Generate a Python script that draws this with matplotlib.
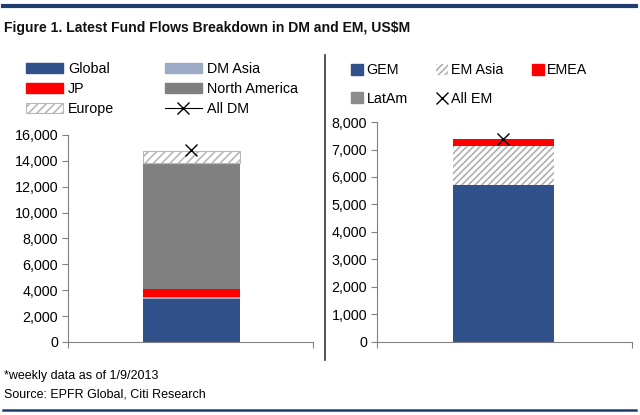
import numpy as np
import matplotlib.pyplot as plt
from matplotlib.lines import Line2D
from matplotlib.patches import Patch

plt.rcParams['font.family'] = ['Liberation Sans', 'DejaVu Sans']
plt.rcParams['hatch.linewidth'] = 1.2

# data (US$M)
dm_labels = ['Global', 'DM Asia', 'JP', 'North America', 'Europe']
dm_values = [3320, 150, 650, 9700, 950]
all_dm = 14800

em_labels = ['GEM', 'LatAm', 'EM Asia', 'EMEA']
em_values = [5710, 0, 1420, 250]
all_em = 7400

dm_ticks = [0, 2000, 4000, 6000, 8000, 10000, 12000, 14000, 16000]
em_ticks = [0, 1000, 2000, 3000, 4000, 5000, 6000, 7000, 8000]

navy = '#30518a'
styles = {
    'Global': dict(color=navy),
    'GEM': dict(color=navy),
    'DM Asia': dict(color='#9cabc6'),
    'JP': dict(color='#ff0000'),
    'EMEA': dict(color='#ff0000'),
    'North America': dict(color='#808080'),
    'LatAm': dict(color='#8c8c8c'),
    'Europe': dict(facecolor='white', edgecolor='#b8b8b8', hatch='////', linewidth=0.8),
    'EM Asia': dict(facecolor='white', edgecolor='#b0b0b0', hatch='/////', linewidth=0),
}

fig = plt.figure(figsize=(6.4, 4.15), dpi=100)

ax1 = fig.add_axes([0.106, 0.176, 0.383, 0.499])
ax2 = fig.add_axes([0.589, 0.176, 0.398, 0.530])


def stack(ax, labels, values, total, ticks, xlim):
    bottom = 0
    for lab, v in zip(labels, values):
        ax.bar(0, v, width=1.0, bottom=bottom, **styles[lab])
        bottom += v
    ax.plot([0], [total], marker='x', color='black', markersize=9, mew=1.0,
            linestyle='none', zorder=5)
    ax.set_ylim(ticks[0], ticks[-1])
    ax.set_xlim(*xlim)
    ax.set_yticks(ticks)
    ax.set_yticklabels([f'{t:,}' for t in ticks], fontsize=10.3)
    ax.set_xticks(list(xlim))
    ax.set_xticklabels(['', ''])
    for s in ['top', 'right']:
        ax.spines[s].set_visible(False)
    for s in ['left', 'bottom']:
        ax.spines[s].set_color('#808080')
        ax.spines[s].set_linewidth(0.8)
    ax.tick_params(axis='both', direction='out', length=4, color='#808080', width=0.8)
    ax.tick_params(axis='y', pad=3)


stack(ax1, dm_labels, dm_values, all_dm, dm_ticks, (-1.27, 1.25))
stack(ax2, em_labels, em_values, all_em, em_ticks, (-1.25, 1.27))

# left legend
h1 = [Patch(**styles['Global']), Patch(**styles['JP']), Patch(**styles['Europe']),
      Patch(**styles['DM Asia']), Patch(**styles['North America']),
      Line2D([], [], color='black', lw=0.8, marker='x', markersize=9, mew=1.0)]
l1 = ['Global', 'JP', 'Europe', 'DM Asia', 'North America', 'All DM']
fig.legend(h1, l1, loc='upper left', bbox_to_anchor=(0.040, 0.850), ncol=2,
           frameon=False, fontsize=10.3, handlelength=2.6, handleheight=0.7,
           handletextpad=0.35, labelspacing=0.42, columnspacing=3.55,
           borderpad=0, borderaxespad=0)

# right legend
h2 = [Patch(**styles['GEM']), Patch(**styles['LatAm']),
      Patch(**styles['EM Asia']),
      Line2D([], [], color='black', lw=0, marker='x', markersize=9, mew=1.0),
      Patch(**styles['EMEA'])]
l2 = ['GEM', 'LatAm', 'EM Asia', 'All EM', 'EMEA']
fig.legend(h2, l2, loc='upper left', bbox_to_anchor=(0.549, 0.847), ncol=3,
           frameon=False, fontsize=10.3, handlelength=0.8, handleheight=0.8,
           handletextpad=0.25, labelspacing=1.0, columnspacing=2.0,
           borderpad=0, borderaxespad=0)

# title, frame lines and notes
fig.text(0.006, 0.933, 'Figure 1. Latest Fund Flows Breakdown in DM and EM, US$M',
         fontsize=10.1, fontweight='bold', color='#111111', va='center')
fig.add_artist(Line2D([0.005, 0.994], [0.985, 0.985], color='#1d3e6e', lw=3))
fig.add_artist(Line2D([0.005, 0.994], [0.012, 0.012], color='#1d3e6e', lw=1.8))
fig.add_artist(Line2D([0.508, 0.508], [0.133, 0.868], color='#333333', lw=1.2))
fig.text(0.006, 0.094, '*weekly data as of 1/9/2013', fontsize=9, va='center')
fig.text(0.006, 0.050, 'Source: EPFR Global, Citi Research', fontsize=9, va='center')

plt.savefig('out.png', dpi=100)
